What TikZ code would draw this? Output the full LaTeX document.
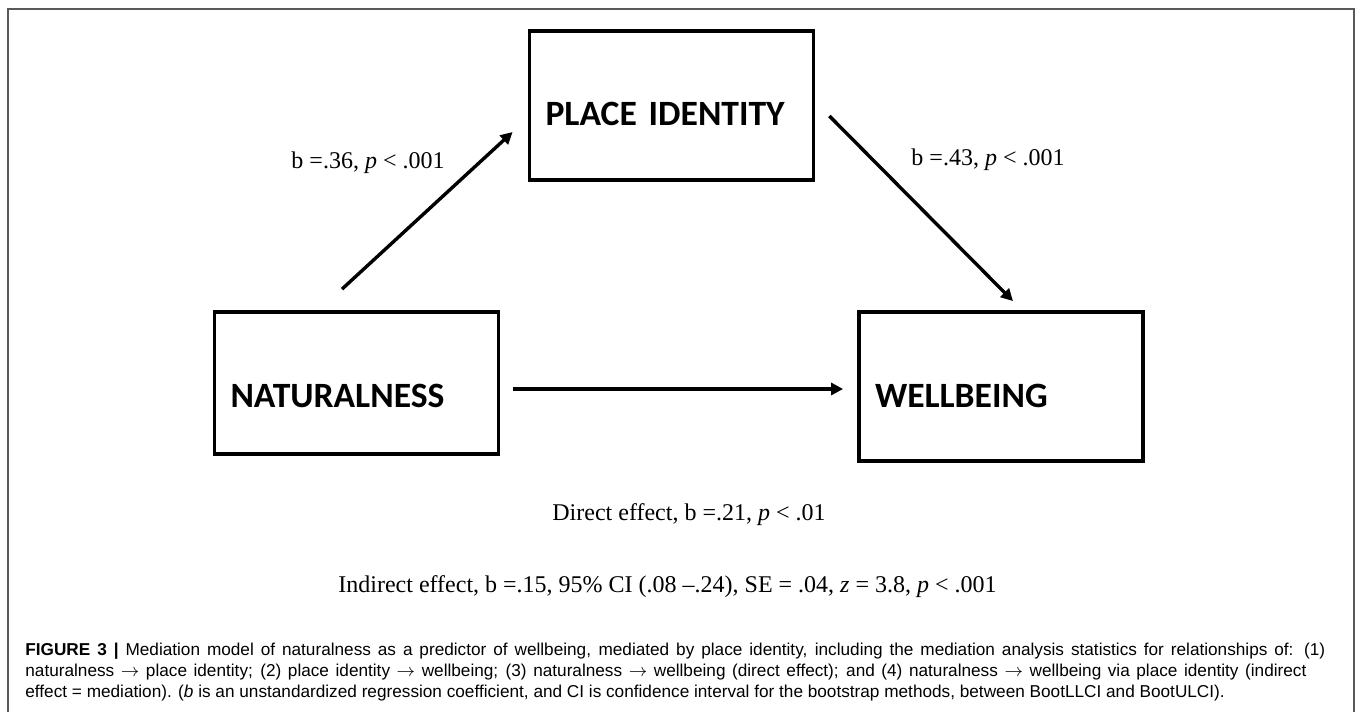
\documentclass[tikz,border=0pt]{standalone}
\usepackage{fontspec}
\setmainfont{Liberation Serif}
\newfontfamily\boxfont{Carlito}
\newfontfamily\capfont{Liberation Sans}
\usetikzlibrary{arrows.meta, positioning}

\begin{document}
\begin{tikzpicture}[x=0.5pt, y=-0.5pt, every node/.style={font=\fontsize{12}{14}\selectfont},
      varbox/.style={rectangle, draw, line width=1.9pt, minimum width=142pt, minimum height=74.5pt, inner xsep=8pt, text width=126pt, align=left, text depth=0pt, font=\boxfont\bfseries\fontsize{17.8}{20}\selectfont},
      effarrow/.style={-{Triangle[length=6pt, width=6pt]}, line width=1.7pt},
      frameline/.style={draw=black!65, line width=1pt}]

      \useasboundingbox (0,0) rectangle (1357,712);
      \draw[frameline] (8,730) -- (8,9) -- (1354,9) -- (1354,730);

      % Blocks
      \node[varbox, text height=24pt, minimum height=71pt] (nat) at (356.5,383) {NATURALNESS};
      \node[varbox, text height=19.5pt] (pid) at (671.5,105.5) {PLACE IDENTITY};
      \node[varbox, text height=20.5pt] (wb) at (1001,386.5) {WELLBEING};

      % Arrows
      \draw[effarrow] ([xshift=-7.25pt, yshift=10.5pt]nat.north) -- ([xshift=-7.5pt, yshift=-13.25pt]pid.west);
      \draw[effarrow] ([xshift=7pt, yshift=-5.25pt]pid.east) -- ([xshift=6pt, yshift=4.5pt]wb.north);
      \draw[effarrow] ([xshift=6.5pt, yshift=-3pt]nat.east) -- ([xshift=-7pt, yshift=-1.25pt]wb.west);

      % Labels
      \node (lblnp) at (368,163) {b =.36, \textit{p} < .001};
      \node (lblpw) at (988,160) {b =.43, \textit{p} < .001};
      \node (direct) at (689,515) {Direct effect, b =.21, \textit{p} < .01};
      \node (indirect) at (667.5,587) {Indirect effect, b =.15, 95\% CI (.08 –.24), SE = .04, \textit{z} = 3.8, \textit{p} < .001};

      % Caption
      \node[anchor=north west, inner sep=0pt, align=left, font=\capfont\fontsize{8.6}{10.5}\selectfont] (caption) at (25,643) {\makebox[650pt][s]{\textbf{FIGURE 3 |} Mediation model of naturalness as a predictor of wellbeing, mediated by place identity, including the mediation analysis statistics for relationships of: (1)}\\
        \makebox[640.5pt][s]{naturalness $\rightarrow$ place identity; (2) place identity $\rightarrow$ wellbeing; (3) naturalness $\rightarrow$ wellbeing (direct effect); and (4) naturalness $\rightarrow$ wellbeing via place identity (indirect}\\
        effect = mediation). (\textit{b} is an unstandardized regression coefficient, and CI is confidence interval for the bootstrap methods, between BootLLCI and BootULCI).};
\end{tikzpicture}
\end{document}
